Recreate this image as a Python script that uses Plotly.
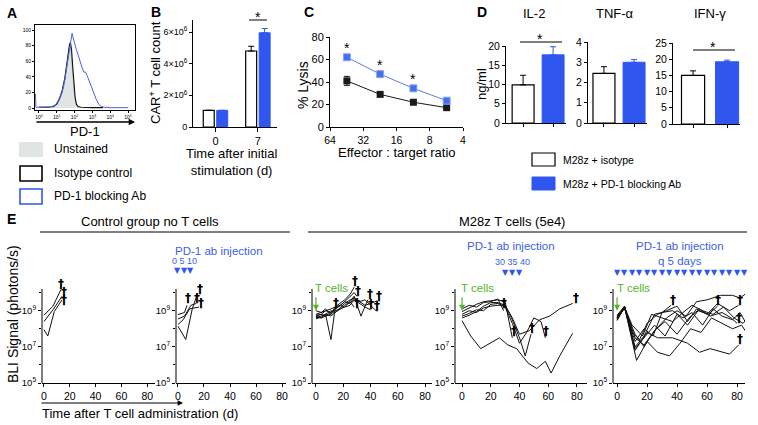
import math
import plotly.graph_objects as go

W, H = 758, 425
FONT = "Liberation Sans, Arial, Helvetica, sans-serif"
BLUE = "#2f56ef"
BLUE_LINE = "#4a62e0"
BLUE_MARK = "#4470f0"
BLUE_TXT = "#3d5fe6"
GREEN = "#55b52a"
GREY_FILL = "#dfe5e4"

# ---------------- DATA ----------------
# Panel A: PD-1 histogram (log10 fluorescence, % of max)
a_unstained_log = [0.7, 0.9, 1.1, 1.25, 1.4, 1.5, 1.6, 1.68, 1.74, 1.8, 1.86, 1.92, 2.0, 2.08, 2.15, 2.25]
a_unstained_pct = [0, 2, 8, 16, 28, 42, 60, 76, 80, 72, 55, 35, 16, 6, 2, 0]
a_isotype_log = [0, 0.5, 0.8, 1.0, 1.15, 1.3, 1.45, 1.55, 1.65, 1.72, 1.77, 1.83, 1.9, 1.96, 2.03, 2.1, 2.2, 2.35, 2.6, 3.0, 3.6]
a_isotype_pct = [1, 1, 2, 5, 12, 22, 38, 55, 72, 82, 84, 75, 52, 30, 14, 5, 2, 1, 0.5, 0.5, 0.5]
a_pd1_log = [-0.2, -0.19, -0.17, 0.2, 0.6, 0.9, 1.1, 1.3, 1.45, 1.6, 1.72, 1.8, 1.86, 1.92, 2.0, 2.1, 2.2,
             2.3, 2.42, 2.52, 2.62, 2.7, 2.8, 2.92, 3.05, 3.2, 3.35, 3.5, 3.7, 4.0, 5.0]
a_pd1_pct = [18, 18, 1, 1, 1.5, 3, 10, 20, 36, 58, 78, 90, 96, 90, 82, 75, 68, 60, 52, 46, 46, 42, 36, 28,
             20, 12, 5, 2, 1, 0.5, 0.5]
a_xtick_exp = [0, 1, 2, 3, 4, 5]
a_yticks = [0, 20, 40, 60, 80, 100]
a_legend = ["Unstained", "Isotype control", "PD-1 blocking Ab"]

# Panel B: CAR+ T cell count
b_days = ["0", "7"]
b_iso = [1.05e6, 4.8e6]
b_iso_err = [0, 0.3e6]
b_pd1 = [1.05e6, 5.95e6]
b_pd1_err = [0, 0.27e6]
b_yticks = [0, 2e6, 4e6, 6e6]
b_yticktext = ["0", "2×10<sup>6</sup>", "4×10<sup>6</sup>", "6×10<sup>6</sup>"]

# Panel C: % lysis
c_ratio = [45, 22.5, 11.25, 5.625]
c_iso = [41, 29, 22, 17.2]
c_iso_err = [4, 1.5, 1.2, 1.0]
c_pd1 = [62, 47, 34.4, 23.4]
c_pd1_err = [2.5, 2.5, 2.0, 1.5]
c_sig = [True, True, True, False]
c_xticks = [64, 32, 16, 8, 4]

# Panel D: cytokines
d_cytokines = ["IL-2", "TNF-α", "IFN-γ"]
d_groups = ["M28z + isotype", "M28z + PD-1 blocking Ab"]
d_iso = [9.9, 2.45, 15.0]
d_iso_err = [2.5, 0.33, 1.4]
d_pd1 = [17.7, 3.0, 19.2]
d_pd1_err = [2.1, 0.13, 0.5]
d_ymax = [20, 4, 25]
d_dtick = [5, 1, 5]

# Panel E: BLI signal, log10(photons/s) per mouse
e_xticks = [0, 20, 40, 60, 80]
e_ytick_exp = [5, 7, 9]
t_cell_day = 0

e1_days = [[0, 7, 13], [0, 7, 14], [0, 3, 8, 14]]
e1_exp = [[8.75, 9.25, 10.15], [8.4, 9.05, 9.8], [7.95, 7.6, 8.95, 9.6]]
e1_death_days = [13.5, 15.5, 15.5]
e1_death_exp = [10.5, 10.05, 9.6]

e2_days = [[0, 5, 7], [0, 6, 11, 15], [0, 5, 10, 14], [0, 4, 9, 16]]
e2_exp = [[8.78, 8.9, 9.3], [8.14, 7.41, 9.1, 9.95], [8.54, 8.7, 9.3, 9.4], [8.23, 8.5, 9.1, 9.2]]
e2_death_days = [7.5, 17, 14.5, 18]
e2_death_exp = [9.7, 10.2, 9.7, 9.4]
e2_inject_days = [0, 5, 10]

e3_days = [[0, 4, 7, 11, 14, 18, 21, 25, 28],
           [0, 4, 7, 11, 14, 18, 21, 25, 28, 30],
           [0, 4, 7, 11, 14],
           [0, 4, 7, 11, 14, 18, 21, 25, 28, 33, 38],
           [0, 4, 7, 11, 14, 18, 21, 25, 28, 32, 36, 40, 45],
           [0, 4, 7, 11, 14, 18, 21, 25, 28],
           [0, 4, 7, 11, 14, 18, 21, 25, 28, 32, 36, 40],
           [0, 4, 7, 11, 14, 18, 21, 25, 28, 32, 36, 40, 44]]
e3_exp = [[8.8, 8.9, 9.0, 9.1, 9.2, 9.4, 9.6, 9.9, 10.3],
          [8.7, 8.8, 8.7, 8.9, 9.1, 9.3, 9.5, 9.8, 10.0, 9.8],
          [8.6, 8.7, 8.8, 7.4, 9.1],
          [9.0, 8.9, 9.1, 8.8, 9.2, 9.3, 9.2, 9.5, 9.8, 8.7, 9.6],
          [8.75, 8.8, 9.0, 8.9, 9.1, 9.3, 9.5, 9.4, 9.7, 9.5, 9.3, 9.4, 9.55],
          [8.65, 8.6, 8.7, 8.8, 9.0, 9.1, 9.3, 9.5, 9.2],
          [8.55, 8.65, 8.8, 8.7, 8.9, 9.1, 9.2, 9.3, 9.6, 9.4, 9.2, 9.05],
          [8.7, 8.6, 8.8, 9.0, 8.9, 9.2, 9.4, 9.6, 9.7, 9.5, 9.6, 9.3, 9.0]]
e3_death_days = [28.5, 31, 15, 39.5, 46.5, 30, 40.5, 45]
e3_death_exp = [10.65, 10.1, 9.45, 9.9, 9.8, 9.45, 9.35, 9.25]

e4_days = [[0, 5, 10, 15, 20, 25, 29],
           [0, 5, 10, 15, 20, 25, 30, 35],
           [0, 5, 10, 15, 20, 25, 30, 35, 40, 44, 48],
           [0, 5, 10, 15, 20, 25, 30, 35, 40, 45, 50, 55, 58],
           [0, 5, 10, 15, 20, 25, 30, 35, 40, 47, 54, 61, 68, 77],
           [0, 6, 13, 20, 26, 32, 38, 46, 52, 58, 62, 68, 77]]
e4_exp = [[9.1, 9.3, 9.2, 9.45, 9.5, 9.65, 9.0],
          [8.95, 9.15, 9.35, 9.5, 9.55, 9.6, 9.5, 7.5],
          [8.8, 9.0, 8.9, 9.15, 9.25, 9.3, 9.3, 8.5, 7.5, 6.5, 7.7],
          [8.7, 8.85, 9.05, 9.0, 9.35, 9.4, 9.2, 8.3, 7.2, 7.8, 8.6, 8.4, 7.5],
          [8.6, 8.75, 8.95, 9.25, 9.45, 9.45, 9.3, 8.6, 7.7, 7.9, 8.5, 8.7, 9.1, 9.4],
          [8.45, 7.6, 6.9, 7.2, 7.5, 7.1, 6.9, 6.1, 5.8, 6.2, 5.55, 6.5, 7.75]]
e4_death_days = [29, 36, 49, 58.5, 79.5]
e4_death_exp = [9.4, 7.85, 8.05, 7.9, 9.7]
e4_inject_days = [30, 35, 40]

e5_days = [[0, 5, 12, 18, 25, 30, 36],
           [0, 5, 12, 18, 25, 32, 40, 47, 54, 61, 67],
           [0, 5, 10, 15, 20, 27, 33, 40, 47, 53, 60, 67, 75, 81],
           [0, 5, 12, 18, 25, 33, 40, 46, 53, 60, 69, 77, 82, 86],
           [0, 5, 12, 18, 24, 30, 37, 44, 50, 57, 64, 70, 77, 82, 86],
           [0, 5, 10, 17, 23, 30, 37, 44, 50, 57, 64, 71, 78, 84, 87],
           [0, 5, 13, 20, 27, 35, 42, 49, 56, 63, 70, 77, 83, 87],
           [0, 5, 12, 20, 27, 37, 47, 55, 62, 75, 81],
           [0, 5, 12, 18, 25, 32, 40, 48, 55, 62, 70, 76, 80]]
e5_exp = [[8.6, 9.25, 7.0, 7.6, 8.8, 8.9, 9.3],
          [8.5, 9.2, 6.9, 7.5, 8.2, 7.6, 8.8, 8.2, 9.0, 8.8, 9.25],
          [8.75, 9.25, 7.8, 7.4, 8.3, 8.8, 9.0, 9.25, 8.4, 9.1, 8.8, 9.4, 9.0, 9.3],
          [8.6, 9.2, 7.5, 7.1, 7.9, 8.6, 9.0, 8.7, 9.5, 9.6, 9.85, 9.85, 9.7, 9.95],
          [8.55, 9.15, 7.3, 8.0, 7.6, 8.9, 9.0, 8.6, 8.9, 8.2, 9.1, 8.7, 8.5, 8.9, 8.3],
          [8.7, 9.2, 8.2, 7.6, 8.8, 8.6, 8.4, 8.9, 9.3, 9.0, 8.8, 9.2, 8.6, 8.3, 8.6],
          [8.45, 9.2, 6.25, 7.3, 6.7, 6.5, 7.2, 8.0, 7.8, 8.6, 8.3, 8.0, 8.2, 7.7],
          [8.6, 9.2, 6.8, 7.8, 7.5, 7.5, 7.2, 6.7, 6.9, 6.6, 7.1],
          [8.65, 9.1, 7.7, 7.0, 7.9, 8.4, 7.7, 8.6, 9.1, 8.7, 8.9, 8.6, 8.3]]
e5_death_days = [37, 67.5, 82, 88, 88, 88, 82, 81]
e5_death_exp = [9.6, 9.6, 9.6, 10.2, 8.55, 7.95, 7.45, 8.6]
e5_inject_days = list(range(0, 90, 5))


# ---------------- HELPERS ----------------
def X(p):
    return p / W


def Y(p):
    return 1 - p / H


def xd(a, b):
    return [X(a), X(b)]


def yd(top, bottom):
    return [Y(bottom), Y(top)]


def ax_common(**kw):
    d = dict(showline=True, linecolor="black", linewidth=1, ticks="outside", ticklen=3, tickwidth=1,
             tickcolor="black", showgrid=False, zeroline=False, fixedrange=True, automargin=False,
             tickfont=dict(size=10, family=FONT, color="black"))
    d.update(kw)
    return d


annotations = []
shapes = []


def ann(xp, yp, text, size=12, color="black", xanchor="center", yanchor="middle", angle=0, **kw):
    a = dict(x=X(xp), y=Y(yp), xref="paper", yref="paper", text=text, showarrow=False,
             font=dict(size=size, color=color, family=FONT), xanchor=xanchor, yanchor=yanchor,
             textangle=angle)
    a.update(kw)
    annotations.append(a)


def hline(x0, x1, yp, color="black", width=1):
    shapes.append(dict(type="line", xref="paper", yref="paper", x0=X(x0), x1=X(x1), y0=Y(yp), y1=Y(yp),
                       line=dict(color=color, width=width)))


def rect(x0, x1, y0, y1, fill, line_color, line_width):
    shapes.append(dict(type="rect", xref="paper", yref="paper", x0=X(x0), x1=X(x1), y0=Y(y1), y1=Y(y0),
                       fillcolor=fill, line=dict(color=line_color, width=line_width)))


fig = go.Figure()
layout = dict(width=W, height=H, margin=dict(l=0, r=0, t=0, b=0, pad=0, autoexpand=False),
              paper_bgcolor="white", plot_bgcolor="rgba(0,0,0,0)", showlegend=False, barmode="group",
              bargap=0.365, bargroupgap=0.185, font=dict(family=FONT, color="black"))

# ---------------- PANEL A ----------------
fig.add_trace(go.Scatter(x=a_unstained_log, y=a_unstained_pct, mode="lines", fill="tozeroy",
                         fillcolor=GREY_FILL, line=dict(color="#a8afaf", width=0.8), xaxis="x", yaxis="y"))
fig.add_trace(go.Scatter(x=a_isotype_log, y=a_isotype_pct, mode="lines",
                         line=dict(color="#111111", width=1.1), xaxis="x", yaxis="y"))
fig.add_trace(go.Scatter(x=a_pd1_log, y=a_pd1_pct, mode="lines",
                         line=dict(color=BLUE_LINE, width=1), xaxis="x", yaxis="y"))
layout["xaxis"] = ax_common(domain=xd(35, 135), anchor="y", range=[-0.22, 5.39], mirror=True,
                            tickvals=a_xtick_exp, ticktext=[f"10<sup>{e}</sup>" for e in a_xtick_exp],
                            ticklen=2, tickfont=dict(size=5, family=FONT, color="black"))
layout["yaxis"] = ax_common(domain=yd(25, 110), anchor="x", range=[-2.5, 106.5], mirror=True,
                            tickvals=a_yticks, ticklen=2, tickfont=dict(size=5, family=FONT, color="black"))
annotations.append(dict(x=X(135), y=Y(122), xref="paper", yref="paper", text="", showarrow=True,
                        ax=-100, ay=0, arrowhead=2, arrowsize=0.9, arrowwidth=1.4, arrowcolor="black"))
ann(85, 132, "PD-1", size=13)
rect(19, 43, 142, 157, GREY_FILL, GREY_FILL, 0)
rect(20, 42, 166, 181, "white", "black", 1.6)
rect(20, 42, 189, 204, "white", BLUE, 1.6)
for txt, yy in zip(a_legend, [149, 173, 196]):
    ann(52, yy, txt, size=12, xanchor="left")

# ---------------- PANEL B ----------------
fig.add_trace(go.Bar(x=b_days, y=b_iso, marker=dict(color="white", line=dict(color="black", width=1.2)),
                     error_y=dict(type="data", symmetric=False, array=b_iso_err, arrayminus=[0, 0],
                                  color="black", thickness=1, width=3), xaxis="x2", yaxis="y2"))
fig.add_trace(go.Bar(x=b_days, y=b_pd1, marker=dict(color=BLUE, line=dict(color=BLUE, width=1)),
                     error_y=dict(type="data", symmetric=False, array=b_pd1_err, arrayminus=[0, 0],
                                  color=BLUE, thickness=1, width=3), xaxis="x2", yaxis="y2"))
layout["xaxis2"] = ax_common(domain=xd(193, 277), anchor="y2", type="category", range=[-0.53, 1.45],
                             ticklen=4, tickfont=dict(size=11, family=FONT, color="black"))
layout["yaxis2"] = ax_common(domain=yd(20, 127), anchor="x2", range=[0, 6.76e6], tickvals=b_yticks,
                             ticktext=b_yticktext, tickfont=dict(size=9, family=FONT, color="black"))
ann(155, 73, "CAR<sup>+</sup> T cell count", size=13, angle=-90)
ann(231, 162, "Time after initial<br>stimulation (d)", size=13)
hline(249, 267, 20)
ann(258, 17, "*", size=14)

# ---------------- PANEL C ----------------
fig.add_trace(go.Scatter(x=c_ratio, y=c_iso, mode="lines+markers",
                         marker=dict(symbol="square", size=7, color="#1a1a1a"),
                         line=dict(color="#1a1a1a", width=1),
                         error_y=dict(type="data", array=c_iso_err, color="#1a1a1a", thickness=1, width=3),
                         xaxis="x3", yaxis="y3"))
fig.add_trace(go.Scatter(x=c_ratio, y=c_pd1, mode="lines+markers",
                         marker=dict(symbol="square", size=7, color=BLUE_MARK,
                                     line=dict(color="#8aa3f7", width=1)),
                         line=dict(color="#5f7cec", width=1),
                         error_y=dict(type="data", array=c_pd1_err, color="#5f7cec", thickness=1, width=3),
                         xaxis="x3", yaxis="y3"))
layout["xaxis3"] = ax_common(domain=xd(330, 463), anchor="y3", type="log",
                             range=[math.log10(64), math.log10(4)], tickvals=c_xticks,
                             ticktext=[str(v) for v in c_xticks],
                             tickfont=dict(size=10.5, family=FONT, color="black"))
layout["yaxis3"] = ax_common(domain=yd(37, 127), anchor="x3", range=[0, 80], dtick=20,
                             tickfont=dict(size=11, family=FONT, color="black"))
for r, v, s in zip(c_ratio, c_pd1, c_sig):
    if s:
        annotations.append(dict(x=math.log10(r), y=v, xref="x3", yref="y3", text="*", showarrow=False,
                                yshift=9, font=dict(size=14, family=FONT, color="black")))
ann(303, 85, "% Lysis", size=14, angle=-90)
ann(397, 152, "Effector : target ratio", size=13)

# ---------------- PANEL D ----------------
d_xdom = [(506, 566), (588, 647), (673, 740)]
d_ydom = [(46, 123), (42, 123), (43, 124)]
d_xrange = [[-0.57, 1.43], [-0.53, 1.43], [-0.59, 1.38]]
d_barw = [0.73, 0.73, 0.68]
d_title_x = [534, 615, 710]
for i in range(3):
    n = 4 + i
    fig.add_trace(go.Bar(x=[d_groups[0]], y=[d_iso[i]], width=[d_barw[i]], offsetgroup="d",
                         marker=dict(color="white", line=dict(color="black", width=1.2)),
                         error_y=dict(type="data", symmetric=False, array=[d_iso_err[i]], arrayminus=[0],
                                      color="black", thickness=1, width=3),
                         xaxis=f"x{n}", yaxis=f"y{n}"))
    fig.add_trace(go.Bar(x=[d_groups[1]], y=[d_pd1[i]], width=[d_barw[i]], offsetgroup="d",
                         marker=dict(color=BLUE, line=dict(color=BLUE, width=1)),
                         error_y=dict(type="data", symmetric=False, array=[d_pd1_err[i]], arrayminus=[0],
                                      color=BLUE, thickness=1, width=3),
                         xaxis=f"x{n}", yaxis=f"y{n}"))
    layout[f"xaxis{n}"] = ax_common(domain=xd(*d_xdom[i]), anchor=f"y{n}", type="category",
                                    categoryorder="array", categoryarray=d_groups,
                                    range=d_xrange[i], showticklabels=False)
    layout[f"yaxis{n}"] = ax_common(domain=yd(*d_ydom[i]), anchor=f"x{n}", range=[0, d_ymax[i]],
                                    dtick=d_dtick[i], tickfont=dict(size=10.5, family=FONT, color="black"))
    ann(d_title_x[i], 13, d_cytokines[i], size=13)
ann(481, 84, "ng/ml", size=13, angle=-90)
hline(520, 562, 42)
ann(540, 39, "*", size=14)
hline(693, 735, 50)
ann(713, 47, "*", size=14)
rect(532, 555, 153, 166, "white", "black", 1.2)
rect(532, 555, 177, 190, BLUE, BLUE, 1)
ann(561, 160, d_groups[0], size=10.5, xanchor="left")
ann(561, 184, d_groups[1], size=10.5, xanchor="left")

# ---------------- PANEL E ----------------
E_AX_TOP, E_BOT, E_DOM_TOP = 289, 383, 272
per_dec = (E_BOT - E_AX_TOP) / (10.2 - 5)
e_ytop = 10.2 + (E_AX_TOP - E_DOM_TOP) / per_dec

e_panels = [
    dict(n=7, xpx=(42, 155), xr=[-1.5, 86], days=e1_days, exp=e1_exp, dd=e1_death_days, de=e1_death_exp),
    dict(n=8, xpx=(176, 286), xr=[-1.5, 83], days=e2_days, exp=e2_exp, dd=e2_death_days, de=e2_death_exp),
    dict(n=9, xpx=(312, 432), xr=[-2.9, 85.1], days=e3_days, exp=e3_exp, dd=e3_death_days, de=e3_death_exp),
    dict(n=10, xpx=(455, 587), xr=[-4.9, 87], days=e4_days, exp=e4_exp, dd=e4_death_days, de=e4_death_exp),
    dict(n=11, xpx=(613, 745), xr=[-2.7, 85.3], days=e5_days, exp=e5_exp, dd=e5_death_days, de=e5_death_exp),
]
for p in e_panels:
    n = p["n"]
    for dl, el in zip(p["days"], p["exp"]):
        fig.add_trace(go.Scatter(x=dl, y=[10 ** v for v in el], mode="lines",
                                 line=dict(color="#111111", width=1), xaxis=f"x{n}", yaxis=f"y{n}"))
    layout[f"xaxis{n}"] = ax_common(domain=xd(*p["xpx"]), anchor=f"y{n}", range=p["xr"], tickvals=e_xticks,
                                    tickfont=dict(size=10.5, family=FONT, color="black"))
    layout[f"yaxis{n}"] = ax_common(domain=yd(E_DOM_TOP, E_BOT), anchor=f"x{n}", type="log",
                                    range=[5, e_ytop], showline=False,
                                    tickvals=[10 ** e for e in e_ytick_exp],
                                    ticktext=[f"10<sup>{e}</sup>" for e in e_ytick_exp],
                                    minor=dict(ticks="outside", ticklen=2, tickcolor="black",
                                               tickvals=[1e6, 1e8, 1e10]),
                                    tickfont=dict(size=9.5, family=FONT, color="black"))
    shapes.append(dict(type="line", xref="paper", yref="paper", x0=X(p["xpx"][0]), x1=X(p["xpx"][0]),
                       y0=Y(E_BOT), y1=Y(E_AX_TOP), line=dict(color="black", width=1)))
    for dday, dexp in zip(p["dd"], p["de"]):
        annotations.append(dict(x=dday, y=dexp, xref=f"x{n}", yref=f"y{n}", text="<b>†</b>",
                                showarrow=False,
                                font=dict(size=12, family="DejaVu Sans, sans-serif", color="black")))

# T cell arrows (M28z groups)
for n, xl in [(9, 313), (10, 459), (11, 615)]:
    annotations.append(dict(x=t_cell_day, y=9.0, xref=f"x{n}", yref=f"y{n}", text="", showarrow=True,
                            ax=0, ay=-15, arrowhead=2, arrowsize=1, arrowwidth=1.2, arrowcolor=GREEN))
    ann(xl, 288, "T cells", size=11.5, color=GREEN, xanchor="left")

# Antibody injections
for n, days, ytri in [(8, e2_inject_days, 270), (10, e4_inject_days, 272), (11, e5_inject_days, 272)]:
    for d in days:
        annotations.append(dict(x=d, y=Y(ytri), xref=f"x{n}", yref="paper", text="▼", showarrow=False,
                                font=dict(size=8, family="DejaVu Sans", color=BLUE)))
for n, days, yl in [(8, e2_inject_days, 261), (10, e4_inject_days, 262)]:
    annotations.append(dict(x=sum(days) / len(days), y=Y(yl), xref=f"x{n}", yref="paper",
                            text=" ".join(str(d) for d in days), showarrow=False,
                            font=dict(size=9, family=FONT, color=BLUE_TXT)))
ann(219, 251, "PD-1 ab injection", size=11.5, color=BLUE_TXT)
ann(511, 246, "PD-1 ab injection", size=11.5, color=BLUE_TXT)
ann(680, 246, "PD-1 ab injection", size=11.5, color=BLUE_TXT)
ann(680, 261, "q 5 days", size=11.5, color=BLUE_TXT)

# E headers & axis titles
ann(150, 221, "Control group no T cells", size=13)
hline(40, 290, 232)
ann(512, 221, "M28z T cells (5e4)", size=13)
hline(308, 747, 232)
ann(13, 314, "BLI Signal (photons/s)", size=14, angle=-90)
annotations.append(dict(x=X(183), y=Y(403), xref="paper", yref="paper", text="", showarrow=True,
                        ax=-143, ay=0, arrowhead=2, arrowsize=0.9, arrowwidth=1.2, arrowcolor="black"))
ann(40, 413, "Time after T cell administration (d)", size=13, xanchor="left")

# Panel letters
for letter, xx, yy in [("A", 12, 13), ("B", 156, 12), ("C", 309, 12), ("D", 482, 12), ("E", 11, 219)]:
    ann(xx, yy, f"<b>{letter}</b>", size=14)

layout["annotations"] = annotations
layout["shapes"] = shapes
fig.update_layout(**layout)
fig.write_html("out.html", config={"displayModeBar": False, "staticPlot": True},
               post_script="document.body.style.margin='0';document.body.style.padding='0';"
                           "document.documentElement.style.overflow='hidden';")
